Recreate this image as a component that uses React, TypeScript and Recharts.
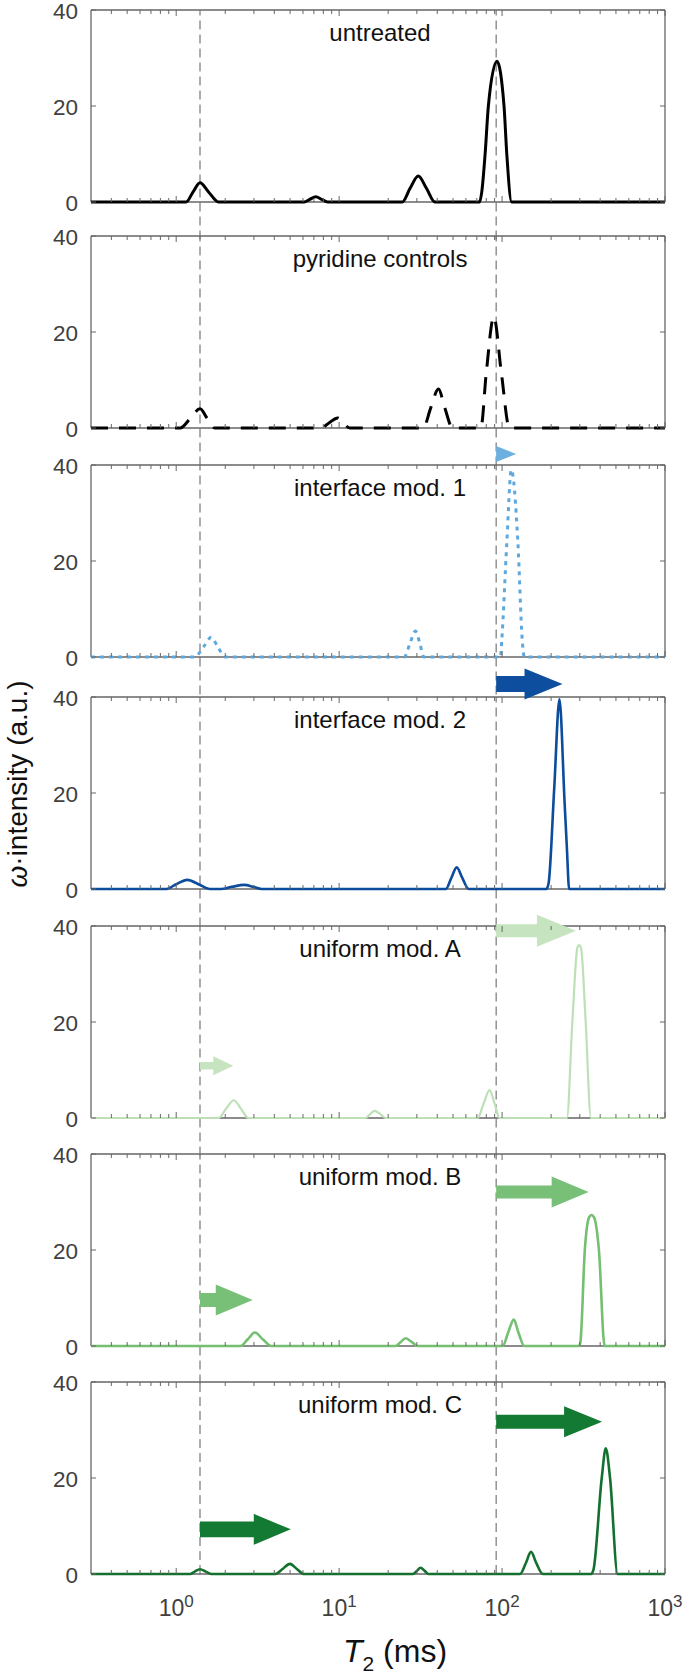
import { LineChart, Line, XAxis, YAxis, ReferenceLine } from "recharts";

// T2 distributions, [T2 (ms), intensity]
const untreated: [number, number][] = [
  [0.3, 0], [1.15, 0], [1.27, 2.1], [1.4, 4.0], [1.58, 2.1], [1.82, 0],
  [6.1, 0], [6.6, 0.55], [7.2, 1.1], [7.8, 0.55], [8.5, 0],
  [24.4, 0], [27.2, 2.8], [30.6, 5.4], [34.4, 2.8], [38.7, 0],
  [72.8, 0], [75, 2], [78.7, 10], [82.4, 20], [93, 29.3], [102.8, 20], [106.9, 10], [114.5, 0],
  [1000, 0],
];
const pyridine: [number, number][] = [
  [0.3, 0], [1.06, 0], [1.22, 2.0], [1.4, 4.0], [1.55, 2.0], [1.72, 0],
  [7.76, 0], [8.7, 1.1], [9.8, 2.1], [10.6, 1.1], [11.6, 0],
  [32.8, 0], [36.5, 4.2], [40.7, 8.1], [44.5, 4.2], [49.7, 0],
  [74.1, 0], [80, 11.5], [89, 23.2], [99, 11.5], [111, 0],
  [1000, 0],
];
const mod1: [number, number][] = [
  [0.3, 0], [1.3, 0], [1.47, 2.1], [1.64, 4.1], [1.8, 2.1], [2.0, 0],
  [25.1, 0], [27.2, 2.8], [29.4, 5.4], [31.3, 2.8], [33.1, 0],
  [97.7, 0], [99.6, 3.5], [107, 24], [114, 39], [125, 24], [133, 3.5], [137, 0],
  [1000, 0],
];
const mod2: [number, number][] = [
  [0.3, 0], [0.87, 0], [1.0, 1.0], [1.17, 1.9], [1.37, 1.0], [1.61, 0],
  [1.88, 0], [2.2, 0.45], [2.61, 0.85], [2.98, 0.45], [3.34, 0],
  [45.2, 0], [48.8, 2.3], [52.7, 4.5], [57, 2.3], [62.4, 0],
  [187, 0], [193, 1.2], [209, 21], [225, 39.5], [242, 18], [250, 8.5], [258, 0],
  [1000, 0],
];
const modA: [number, number][] = [
  [0.3, 0], [1.82, 0], [2.02, 1.9], [2.26, 3.7], [2.5, 1.9], [2.77, 0],
  [14.5, 0], [15.5, 0.8], [16.5, 1.5], [17.9, 0.8], [19.3, 0],
  [70.8, 0], [77, 3.0], [83.8, 5.8], [90, 3.0], [96.6, 0],
  [250, 0], [270, 20], [290, 35.5], [297, 36], [305, 35.5], [326, 20], [351, 0],
  [1000, 0],
];
const modB: [number, number][] = [
  [0.3, 0], [2.48, 0], [2.75, 1.4], [3.04, 2.8], [3.4, 1.4], [3.83, 0],
  [22.2, 0], [23.8, 0.8], [25.6, 1.6], [28, 0.8], [30.3, 0],
  [101, 0], [109, 2.8], [118, 5.5], [126, 2.8], [137, 0],
  [297, 0], [303, 1], [322, 20], [342, 26.8], [354, 27.3], [367, 26.8], [393, 20], [426, 0],
  [1000, 0],
];
const modC: [number, number][] = [
  [0.3, 0], [1.22, 0], [1.3, 0.5], [1.4, 1.0], [1.52, 0.5], [1.65, 0],
  [4.06, 0], [4.5, 1.05], [4.99, 2.1], [5.5, 1.05], [6.08, 0],
  [28.4, 0], [30, 0.65], [31.6, 1.3], [33.5, 0.65], [35.3, 0],
  [129, 0], [140, 2.3], [150.6, 4.6], [162, 2.3], [178, 0],
  [352, 0], [364, 0.9], [409, 20], [433, 26.2], [460, 20], [512, 0],
  [1000, 0],
];

// shift arrows: [from T2, to T2, intensity level]
const arrowsMod1: [number, number, number][] = [[92, 122, 42.3]];
const arrowsMod2: [number, number, number][] = [[92, 235, 42.7]];
const arrowsModA: [number, number, number][] = [[92, 284, 39.0], [1.4, 2.24, 10.9]];
const arrowsModB: [number, number, number][] = [[92, 340, 32.1], [1.4, 2.95, 9.6]];
const arrowsModC: [number, number, number][] = [[92, 411, 31.7], [1.4, 5.05, 9.3]];

const panelNames = [
  "untreated",
  "pyridine controls",
  "interface mod. 1",
  "interface mod. 2",
  "uniform mod. A",
  "uniform mod. B",
  "uniform mod. C",
];

const X_DOMAIN: [number, number] = [0.3, 1000];
const Y_DOMAIN: [number, number] = [0, 40];
const X_TICKS = [
  0.4, 0.5, 0.6, 0.7, 0.8, 0.9, 1, 2, 3, 4, 5, 6, 7, 8, 9, 10, 20, 30, 40, 50, 60, 70, 80, 90,
  100, 200, 300, 400, 500, 600, 700, 800, 900, 1000,
];
const X_MAJOR = [1, 10, 100, 1000];
const X_MAJOR_EXP = ["0", "1", "2", "3"];
const Y_TICKS = [0, 20, 40];
const GUIDES = [1.4, 92];

// layout
const W = 685;
const PLOT_LEFT = 91;
const PLOT_W = 574;
const PLOT_H = 192;
const MT = 32;
const XAXIS_H = 1;
const PANEL_TOPS = [10, 236, 465, 697, 926, 1154, 1382];
const AXIS = "#666";
const TXT = "#404040";
const FONT = "'Liberation Sans', Arial, Helvetica, sans-serif";

// arrow sizes: shaft thickness, head height, head length (px)
const SIZE_TINY = [0, 16, 20];
const SIZE_SMALL = [7.6, 19, 20];
const SIZE_BIG = [14, 31, 38];

const panels = [
  { data: untreated, color: "#000000", width: 3, dash: undefined, arrows: [], arrowColor: "", sizes: [] },
  { data: pyridine, color: "#000000", width: 3, dash: "17 11", arrows: [], arrowColor: "", sizes: [] },
  { data: mod1, color: "#5ea8dd", width: 3, dash: "4 5", arrows: arrowsMod1, arrowColor: "#6cb0e0", sizes: [SIZE_TINY] },
  { data: mod2, color: "#0b4c9c", width: 2.6, dash: undefined, arrows: arrowsMod2, arrowColor: "#0d4f9e", sizes: [[16, 31, 38]] },
  { data: modA, color: "#bde0b6", width: 2.2, dash: undefined, arrows: arrowsModA, arrowColor: "#c6e4c0", sizes: [[13, 32, 39], SIZE_SMALL] },
  { data: modB, color: "#74bf71", width: 2.6, dash: undefined, arrows: arrowsModB, arrowColor: "#78c077", sizes: [[13, 31, 37], [14, 31, 37]] },
  { data: modC, color: "#14702e", width: 2.6, dash: undefined, arrows: arrowsModC, arrowColor: "#137a33", sizes: [SIZE_BIG, [15.6, 31, 37]] },
];

function arrowShape(color: string, size: number[]) {
  const [shaft, head, len] = size;
  return (p: any) => {
    const x1 = p.x1;
    const y = p.y1;
    const x2 = p.x2;
    const xb = x2 - len;
    const pts =
      shaft > 0
        ? [
            [x1, y - shaft / 2], [xb, y - shaft / 2], [xb, y - head / 2], [x2, y],
            [xb, y + head / 2], [xb, y + shaft / 2], [x1, y + shaft / 2],
          ]
        : [[xb, y - head / 2], [x2, y], [xb, y + head / 2]];
    return <polygon points={pts.map((q) => q.join(",")).join(" ")} fill={color} stroke="none" />;
  };
}

function XTick(props: any) {
  const { x, y, payload, showLabels } = props;
  const idx = X_MAJOR.indexOf(payload.value);
  const len = idx >= 0 ? 6 : 4;
  return (
    <g>
      <line x1={x} x2={x} y1={y} y2={y - len} stroke={AXIS} strokeWidth={1} />
      <line x1={x} x2={x} y1={y - PLOT_H} y2={y - PLOT_H + len} stroke={AXIS} strokeWidth={1} />
      {showLabels && idx >= 0 && (
        <text x={x} y={y + 42} textAnchor="middle" fontSize={23} fill={TXT}>
          10
          <tspan dy={-9} fontSize={17}>
            {X_MAJOR_EXP[idx]}
          </tspan>
        </text>
      )}
    </g>
  );
}

function YTick(props: any) {
  const { x, y, payload } = props;
  return (
    <g>
      <line x1={x} x2={x + 5} y1={y} y2={y} stroke={AXIS} strokeWidth={1} />
      <line x1={x + PLOT_W} x2={x + PLOT_W - 5} y1={y} y2={y} stroke={AXIS} strokeWidth={1} />
      <text x={x - 13} y={y + 8.5} textAnchor="end" fontSize={22.5} fill={TXT}>
        {payload.value}
      </text>
    </g>
  );
}

function Panel({ index }: { index: number }) {
  const p = panels[index];
  const last = index === panels.length - 1;
  const mb = last ? 60 : 44;
  const rows = p.data.map(([t2, v]) => ({ t2, v }));
  return (
    <div style={{ position: "absolute", left: 0, top: PANEL_TOPS[index] - MT }}>
      <LineChart
        width={W}
        height={MT + PLOT_H + XAXIS_H + mb}
        data={rows}
        margin={{ top: MT, right: W - PLOT_LEFT - PLOT_W, bottom: mb, left: 0 }}
      >
        <XAxis
          dataKey="t2"
          type="number"
          scale="log"
          domain={X_DOMAIN}
          allowDataOverflow
          ticks={X_TICKS}
          interval={0}
          tickSize={0}
          tickMargin={0}
          tickLine={false}
          height={XAXIS_H}
          axisLine={{ stroke: AXIS, strokeWidth: 1.3 }}
          tick={(tp: any) => <XTick {...tp} showLabels={last} />}
        />
        <YAxis
          type="number"
          domain={Y_DOMAIN}
          ticks={Y_TICKS}
          interval={0}
          width={PLOT_LEFT}
          tickSize={0}
          tickMargin={0}
          tickLine={false}
          axisLine={{ stroke: AXIS, strokeWidth: 1.3 }}
          tick={YTick}
        />
        <ReferenceLine y={40} stroke={AXIS} strokeWidth={1.3} ifOverflow="visible" />
        <ReferenceLine x={1000} stroke={AXIS} strokeWidth={1.3} ifOverflow="visible" />
        {GUIDES.map((g) => (
          <ReferenceLine
            key={g}
            segment={[
              { x: g, y: last ? 0 : -7.8 },
              { x: g, y: 40 },
            ]}
            stroke="#777"
            strokeWidth={1.2}
            strokeDasharray="9 5"
            ifOverflow="visible"
          />
        ))}
        <Line
          dataKey="v"
          type="monotone"
          stroke={p.color}
          strokeWidth={p.width}
          strokeDasharray={p.dash}
          dot={false}
          activeDot={false}
          isAnimationActive={false}
          {...({ zIndex: 800 } as any)}
        />
        {p.arrows.map((a, k) => (
          <ReferenceLine
            key={"a" + k}
            segment={[
              { x: a[0], y: a[2] },
              { x: a[1], y: a[2] },
            ]}
            ifOverflow="visible"
            shape={arrowShape(p.arrowColor, p.sizes[k])}
            {...({ zIndex: 900 } as any)}
          />
        ))}
      </LineChart>
      <div
        style={{
          position: "absolute",
          left: 380,
          top: MT + 11,
          transform: "translateX(-50%)",
          whiteSpace: "nowrap",
          fontSize: 24,
          lineHeight: "24px",
          color: "#111",
        }}
      >
        {panelNames[index]}
      </div>
    </div>
  );
}

export default function App() {
  return (
    <div
      style={{
        position: "absolute",
        left: 0,
        top: 0,
        width: W,
        height: 1677,
        background: "#fff",
        fontFamily: FONT,
        overflow: "hidden",
      }}
    >
      {panels.map((_, i) => (
        <Panel key={i} index={i} />
      ))}
      <div
        style={{
          position: "absolute",
          left: 18,
          top: 784,
          transform: "translate(-50%, -50%) rotate(-90deg)",
          whiteSpace: "nowrap",
          fontSize: 28,
          lineHeight: "28px",
          color: "#111",
        }}
      >
        <i>ω</i>·intensity (a.u.)
      </div>
      <div
        style={{
          position: "absolute",
          left: 395,
          top: 1635,
          transform: "translateX(-50%)",
          whiteSpace: "nowrap",
          fontSize: 32,
          lineHeight: "32px",
          color: "#111",
        }}
      >
        <i>T</i>
        <span style={{ fontSize: 21, position: "relative", top: 9 }}>2</span> (ms)
      </div>
    </div>
  );
}
